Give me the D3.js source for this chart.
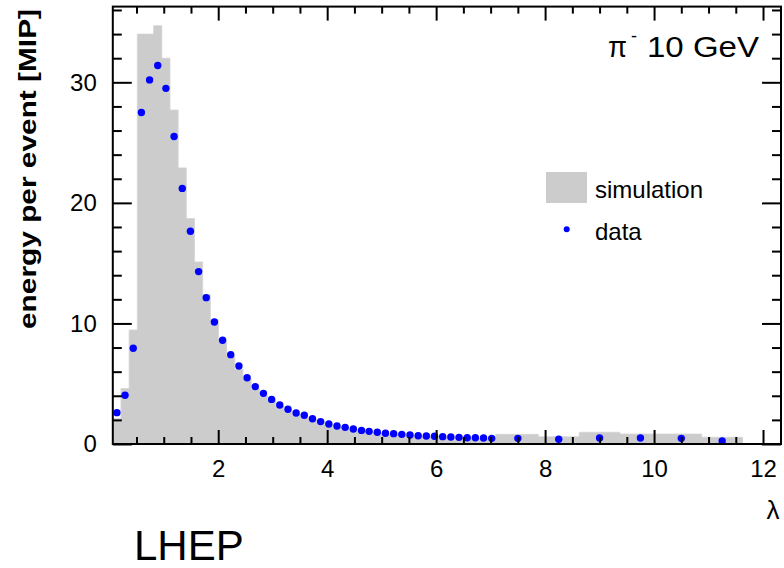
<!DOCTYPE html>
<html>
<head>
<meta charset="utf-8">
<script src="https://cdn.jsdelivr.net/npm/d3@7/dist/d3.min.js"></script>
<style>
  html, body { margin: 0; padding: 0; background: #fff; }
  svg text { font-family: "Liberation Sans", Arial, Helvetica, sans-serif; fill: #000; }
</style>
</head>
<body>
<svg id="chart" width="784" height="568"></svg>
<script>
// Longitudinal shower profile: energy per event vs depth in interaction lengths
const lambda = [
  0.14, 0.29, 0.44, 0.59, 0.74, 0.89, 1.04, 1.19, 1.34, 1.49,
  1.64, 1.78, 1.93, 2.08, 2.23, 2.38, 2.53, 2.68, 2.83, 2.98,
  3.13, 3.28, 3.43, 3.58, 3.73, 3.88, 4.03, 4.18, 4.33, 4.48,
  4.63, 4.77, 4.92, 5.07, 5.22, 5.37, 5.52, 5.67, 5.82, 5.97,
  6.12, 6.27, 6.42, 6.57, 6.72, 6.87, 7.02,
  7.50, 8.25, 9.00, 9.75, 10.50, 11.25
];
const simulation = [
  2.1, 4.6, 9.46, 34.0, 34.0, 34.7, 32.0, 27.7, 22.9, 18.7,
  15.1, 12.4, 10.3, 8.5, 7.3, 6.2, 5.4, 4.6, 4.05, 3.6,
  3.15, 2.8, 2.5, 2.25, 2.05, 1.8, 1.6, 1.45, 1.32, 1.2,
  1.1, 1.0, 0.93, 0.86, 0.8, 0.76, 0.71, 0.67, 0.63, 0.6,
  0.57, 0.55, 0.52, 0.5, 0.48, 0.47, 0.45,
  0.8, 0.6, 0.97, 0.83, 0.83, 0.56
];
const measured = [
  2.6, 4.04, 7.94, 27.5, 30.2, 31.4, 29.5, 25.5, 21.2, 17.65,
  14.3, 12.14, 10.12, 8.6, 7.41, 6.47, 5.5, 4.76, 4.2, 3.7,
  3.24, 2.88, 2.57, 2.38, 2.1, 1.86, 1.66, 1.49, 1.38, 1.24,
  1.13, 1.05, 0.97, 0.89, 0.86, 0.80, 0.75, 0.69, 0.66, 0.64,
  0.61, 0.58, 0.55, 0.52, 0.52, 0.50, 0.47,
  0.47, 0.39, 0.50, 0.50, 0.47, 0.25
];
// fine-sampled layers are 0.15 lambda thick, tail catcher layers 0.75
const binWidth = lambda.map(l => (l > 7.2 ? 0.75 : 0.15));

const xMajor = [2, 4, 6, 8, 10, 12];
const xMinor = [0.5, 1, 1.5, 2.5, 3, 3.5, 4.5, 5, 5.5, 6.5, 7, 7.5, 8.5, 9, 9.5, 10.5, 11, 11.5];
const yMajor = [0, 10, 20, 30];
const yMinor = [2, 4, 6, 8, 12, 14, 16, 18, 22, 24, 26, 28, 32, 34, 36];

const svg = d3.select("#chart");
const frameL = 112.8, frameR = 781, frameT = 6.6, frameB = 444;

const x = d3.scaleLinear().domain([0.065, 12.33]).range([frameL, frameR]);
const y = d3.scaleLinear().domain([0, 36.28]).range([frameB, frameT]);

// histogram bins as a contiguous step outline
const bins = [];
let lo = lambda[0] - binWidth[0] / 2;
lambda.forEach((c, i) => {
  const hi = c + binWidth[i] / 2;
  bins.push({ lo, hi, v: simulation[i] });
  lo = hi;
});
const pts = [[bins[0].lo, 0]];
bins.forEach(b => { pts.push([b.lo, b.v]); pts.push([b.hi, b.v]); });
pts.push([bins[bins.length - 1].hi, 0]);

svg.append("path")
  .attr("d", d3.line().x(d => x(d[0])).y(d => y(d[1]))(pts) + "Z")
  .attr("fill", "#cccccc")
  .attr("stroke", "#d4d4d4")
  .attr("stroke-width", 0.8);

// data points
svg.append("g").selectAll("circle")
  .data(lambda.map((l, i) => ({ l, v: measured[i] })))
  .join("circle")
  .attr("cx", d => x(d.l))
  .attr("cy", d => y(d.v))
  .attr("r", 3.7)
  .attr("fill", "#0000ff");

// axes with inward ticks on all four sides
function styleAxis(g) {
  g.select(".domain").remove();
  g.selectAll(".tick line").attr("stroke", "#000").attr("stroke-width", 2);
  g.selectAll(".tick text").attr("font-size", 24).attr("font-family", "Liberation Sans, Arial, sans-serif");
}
svg.append("g").attr("transform", `translate(0,${frameB})`)
  .call(d3.axisBottom(x).tickValues(xMajor).tickSize(-14).tickPadding(16).tickFormat(d3.format("d")))
  .call(styleAxis);
svg.append("g").attr("transform", `translate(0,${frameB})`)
  .call(d3.axisBottom(x).tickValues(xMinor).tickSize(-7).tickFormat(""))
  .call(styleAxis);
svg.append("g").attr("transform", `translate(0,${frameT})`)
  .call(d3.axisTop(x).tickValues(xMajor).tickSize(-14).tickFormat(""))
  .call(styleAxis);
svg.append("g").attr("transform", `translate(0,${frameT})`)
  .call(d3.axisTop(x).tickValues(xMinor).tickSize(-7).tickFormat(""))
  .call(styleAxis);
svg.append("g").attr("transform", `translate(${frameL},0)`)
  .call(d3.axisLeft(y).tickValues(yMajor).tickSize(-19).tickPadding(16).tickFormat(d3.format("d")))
  .call(styleAxis);
svg.append("g").attr("transform", `translate(${frameL},0)`)
  .call(d3.axisLeft(y).tickValues(yMinor).tickSize(-9).tickFormat(""))
  .call(styleAxis);
svg.append("g").attr("transform", `translate(${frameR},0)`)
  .call(d3.axisRight(y).tickValues(yMajor).tickSize(-19).tickFormat(""))
  .call(styleAxis);
svg.append("g").attr("transform", `translate(${frameR},0)`)
  .call(d3.axisRight(y).tickValues(yMinor).tickSize(-9).tickFormat(""))
  .call(styleAxis);

// frame
svg.append("rect")
  .attr("x", frameL).attr("y", frameT)
  .attr("width", frameR - frameL).attr("height", frameB - frameT)
  .attr("fill", "none").attr("stroke", "#000").attr("stroke-width", 2);

// axis titles
svg.append("text")
  .attr("transform", "translate(36,169) rotate(-90)")
  .attr("text-anchor", "middle")
  .attr("font-size", 24).attr("font-weight", "bold")
  .attr("textLength", 320).attr("lengthAdjust", "spacingAndGlyphs")
  .text("energy per event [MIP]");
svg.append("text")
  .attr("x", 773).attr("y", 519)
  .attr("text-anchor", "middle")
  .attr("font-size", 26)
  .text("λ");

// title
svg.append("text").attr("x", 608).attr("y", 57).attr("font-size", 29)
  .attr("textLength", 19).attr("lengthAdjust", "spacingAndGlyphs").text("π");
svg.append("text").attr("x", 631).attr("y", 42).attr("font-size", 18).text("-");
svg.append("text").attr("x", 647).attr("y", 57).attr("font-size", 29)
  .attr("textLength", 112).attr("lengthAdjust", "spacingAndGlyphs").text("10 GeV");

// legend
svg.append("rect").attr("x", 546).attr("y", 172).attr("width", 41).attr("height", 31).attr("fill", "#cccccc");
svg.append("text").attr("x", 595).attr("y", 198).attr("font-size", 24).text("simulation");
svg.append("circle").attr("cx", 566.7).attr("cy", 229.3).attr("r", 3).attr("fill", "#0000ff");
svg.append("text").attr("x", 595).attr("y", 240).attr("font-size", 24).text("data");

// physics list label
svg.append("text").attr("x", 134).attr("y", 560).attr("font-size", 42).text("LHEP");
</script>
</body>
</html>
